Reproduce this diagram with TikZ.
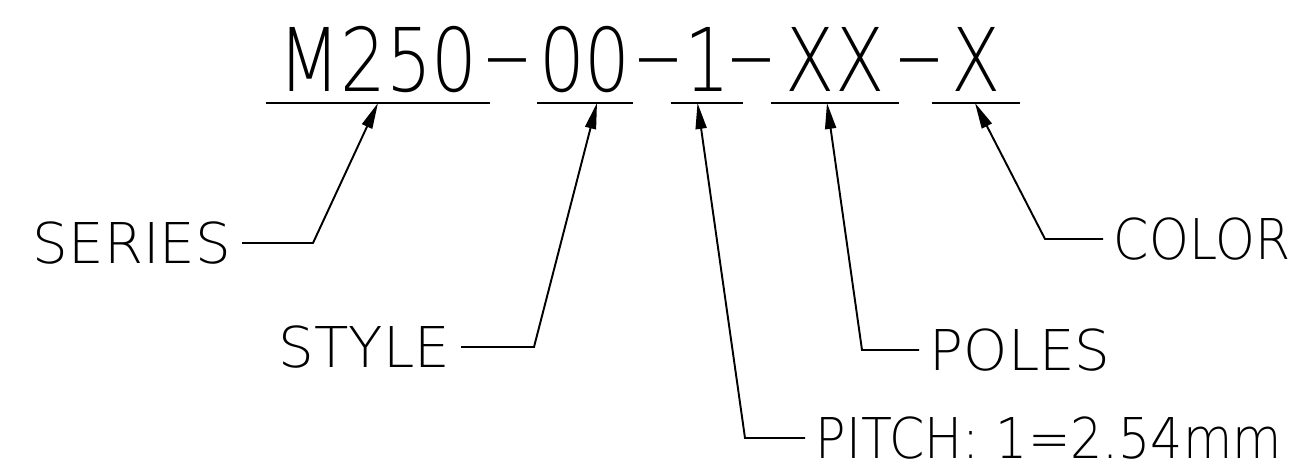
\documentclass[tikz,border=0pt]{standalone}
\usepackage{fontspec}
\usetikzlibrary{
	arrows.meta,
}
\newfontfamily\cadbig[FakeStretch=0.82]{DejaVu Sans ExtraLight}
\newfontfamily\cadlabel{DejaVu Sans ExtraLight}
\newfontfamily\cadnarrow[FakeStretch=0.9]{DejaVu Sans ExtraLight}

\begin{document}
\begin{tikzpicture}[x=0.02cm, y=-0.02cm, line width=1.1pt,
		part/.style={anchor=base, inner xsep=0pt, inner ysep=0.2cm, text depth=0pt, font=\cadbig\fontsize{50}{50}\selectfont},
		dashpart/.style={anchor=base, inner sep=0pt, font=\cadbig\fontsize{50}{50}\selectfont},
		label/.style={inner xsep=0.2cm, inner ysep=0pt, font=\cadlabel\fontsize{32}{32}\selectfont},
		narrowlabel/.style={label, font=\cadnarrow\fontsize{32}{32}\selectfont},
		leader/.style={-{Triangle[length=0.52cm, width=0.22cm]}}]
		\useasboundingbox (0,0) rectangle (1289,475);
		\node [part, minimum width=4.44cm] (pseries) at (378,92) {M250};
		\node [dashpart] (d1) at (507,85) {\scalebox{2}[1]{-}};
		\node [part, minimum width=1.88cm] (pstyle) at (585,92) {00};
		\node [dashpart] (d2) at (658,85) {\scalebox{2}[1]{-}};
		\node [part, minimum width=1.42cm] (ppitch) at (707,92) {1};
		\node [dashpart] (d3) at (751,85) {\scalebox{2}[1]{-}};
		\node [part, minimum width=2.52cm] (ppoles) at (835,92) {XX};
		\node [dashpart] (d4) at (919,85) {\scalebox{2}[1]{-}};
		\node [part, minimum width=1.72cm] (pcolor) at (976,92) {X};
		\draw (pseries.south west) -- (pseries.south east);
		\draw (pstyle.south west) -- (pstyle.south east);
		\draw (ppitch.south west) -- (ppitch.south east);
		\draw (ppoles.south west) -- (ppoles.south east);
		\draw (pcolor.south west) -- (pcolor.south east);
		\node [label, anchor=east] (series) at (242,243) {SERIES};
		\node [label, anchor=east] (style) at (461,347) {STYLE};
		\node [narrowlabel, anchor=west] (pitch) at (805,438) {PITCH: 1=2.54mm};
		\node [label, anchor=west] (poles) at (919,350) {POLES};
		\node [narrowlabel, anchor=west] (color) at (1103,239) {COLOR};
		\coordinate (cseries) at (313,243);
		\coordinate (cstyle) at (534,347);
		\coordinate (cpitch) at (745,438);
		\coordinate (cpoles) at (862,350);
		\coordinate (ccolor) at (1045,239);
		\draw [leader] (series.east) -- (cseries) -- (pseries.south);
		\draw [leader] (style.east) -- (cstyle) -- ([xshift=0.24cm]pstyle.south);
		\draw [leader] (pitch.west) -- (cpitch) -- ([xshift=-0.19cm]ppitch.south);
		\draw [leader] (poles.west) -- (cpoles) -- ([xshift=-0.16cm]ppoles.south);
		\draw [leader] (color.west) -- (ccolor) -- ([xshift=-0.02cm]pcolor.south);
\end{tikzpicture}
\end{document}
